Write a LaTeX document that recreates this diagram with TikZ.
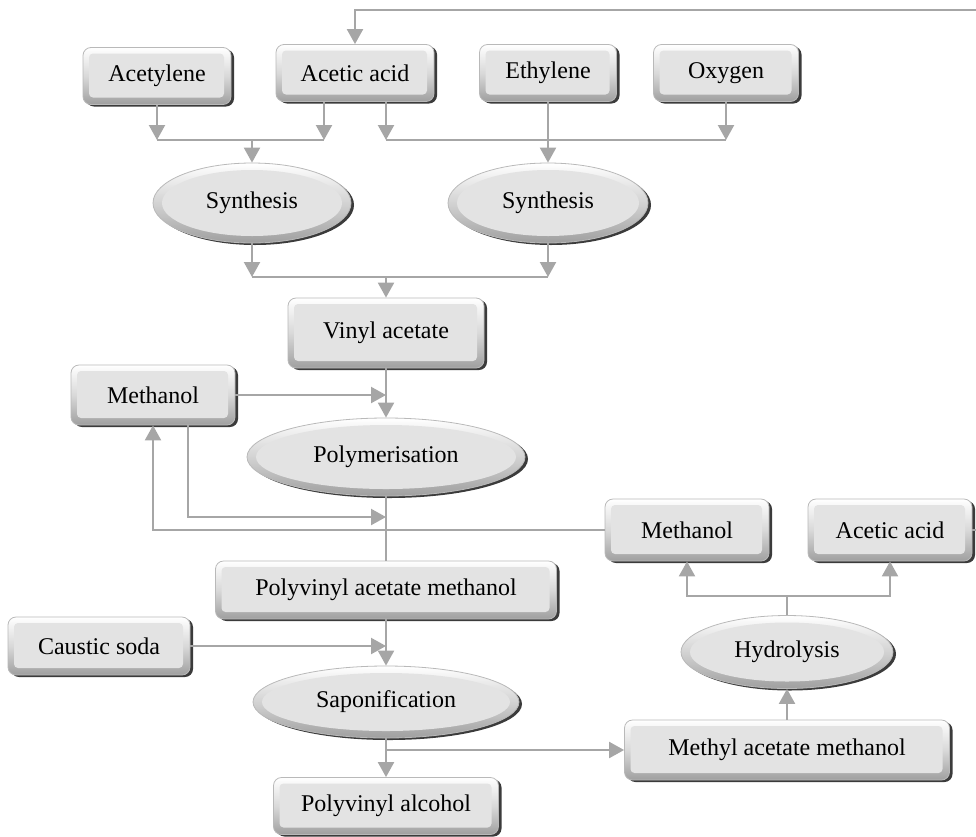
\documentclass[tikz,border=0pt]{standalone}
\usepackage{fontspec}
\setmainfont{Liberation Serif}
\usetikzlibrary{shapes.geometric,shadows,arrows.meta,calc}
\definecolor{ln}{HTML}{A6A6A6}
\tikzset{
  bx/.style={rectangle, rounded corners=8pt, inner sep=0pt, draw=gray!55, line width=0.8pt,
    top color=white, bottom color=gray!75, middle color=gray!30,
    drop shadow={opacity=0.9, fill=black!85, shadow xshift=3pt, shadow yshift=-2pt},
    font=\fontsize{24}{28}\selectfont,
    path picture={\fill[gray!22, rounded corners=4pt] ([xshift=6pt,yshift=-6pt]path picture bounding box.north west) rectangle ([xshift=-7pt,yshift=7pt]path picture bounding box.south east);}},
  el/.style={ellipse, inner sep=0pt, draw=gray!55, line width=0.8pt,
    top color=white, bottom color=gray!75, middle color=gray!35,
    drop shadow={opacity=0.9, fill=black!85, shadow xshift=3pt, shadow yshift=-2pt},
    font=\fontsize{24}{28}\selectfont,
    path picture={\fill[gray!22] let \p1=(path picture bounding box.south west), \p2=(path picture bounding box.north east) in ($(\p1)!0.5!(\p2)$) ellipse ({(\x2-\x1)/2-9pt} and {(\y2-\y1)/2-7pt});}},
  ln/.style={draw=ln, line width=2.2pt},
  arr/.style={ln, -{Triangle[length=15pt,width=16pt]}},
}
\begin{document}
\begin{tikzpicture}[x=1pt,y=-1pt]
\useasboundingbox (0,0) rectangle (976,836);
\clip (0,0) rectangle (976,836);
% nodes
\node[bx, minimum width=148pt, minimum height=57pt] (acet) at (157,76) {Acetylene};
\node[bx, minimum width=158pt, minimum height=57pt] (aa1) at (355,73) {Acetic acid};
\node[bx, minimum width=137pt, minimum height=57pt] (eth) at (548,73) {Ethylene};
\node[bx, minimum width=145pt, minimum height=57pt] (oxy) at (726,73) {Oxygen};
\node[el, minimum width=198pt, minimum height=80pt] (syn1) at (252,203) {Synthesis};
\node[el, minimum width=200pt, minimum height=80pt] (syn2) at (548,203) {Synthesis};
\node[bx, minimum width=196pt, minimum height=70pt] (vin) at (386,333) {Vinyl acetate};
\node[bx, minimum width=164pt, minimum height=60pt] (meth1) at (153,395) {Methanol};
\node[el, minimum width=278pt, minimum height=78pt] (poly) at (386,457) {Polymerisation};
\node[bx, minimum width=164pt, minimum height=62pt] (meth2) at (687,530) {Methanol};
\node[bx, minimum width=164pt, minimum height=62pt] (aa2) at (890,530) {Acetic acid};
\node[bx, minimum width=341pt, minimum height=58pt] (pvam) at (386,590) {Polyvinyl acetate methanol};
\node[bx, minimum width=182pt, minimum height=58pt] (caus) at (99,646) {Caustic soda};
\node[el, minimum width=266pt, minimum height=72pt] (sap) at (386,702) {Saponification};
\node[bx, minimum width=225pt, minimum height=57pt] (pva) at (386,806) {Polyvinyl alcohol};
\node[bx, minimum width=325pt, minimum height=60pt] (mam) at (787,750) {Methyl acetate methanol};
\node[el, minimum width=212pt, minimum height=73pt] (hyd) at (787,652) {Hydrolysis};
% coordinates
\coordinate (h1L) at (157,140);
\coordinate (h1R) at (324,140);
\coordinate (h1M) at (252,140);
\coordinate (h2L) at (386,140);
\coordinate (h2R) at (726,140);
\coordinate (h3L) at (252,277);
\coordinate (h3R) at (548,277);
\coordinate (h3M) at (386,277);
\coordinate (m1in) at (386,395);
\coordinate (lp1) at (188,517);
\coordinate (lp1e) at (386,517);
\coordinate (csin) at (386,646);
\coordinate (br) at (386,750);
\coordinate (hb) at (787,596);
\coordinate (topR) at (990,10);
% connectors top
\draw[arr] (acet.south) -- (h1L);
\draw[arr] (aa1.south -| h1R) -- (h1R);
\draw[ln] (h1L) -- (h1R);
\draw[arr] (h1M) -- (syn1.north);
\draw[arr] (aa1.south -| h2L) -- (h2L);
\draw[ln] (h2L) -- (h2R);
\draw[arr] (oxy.south) -- (h2R);
\draw[arr] (eth.south) -- (syn2.north);
\draw[arr] (aa2.east) -| (topR) -| (aa1.north);
% synthesis to vinyl acetate
\draw[arr] (syn1.south) -- (h3L);
\draw[arr] (syn2.south) -- (h3R);
\draw[ln] (h3L) -- (h3R);
\draw[arr] (h3M) -- (vin.north);
% polymerisation
\draw[arr] (vin.south) -- (poly.north);
\draw[arr] (meth1.east) -- (m1in);
\draw[ln] (poly.south) -- (pvam.north);
\draw[arr] (meth1.south -| lp1) -- (lp1) -- (lp1e);
\draw[arr] (meth2.west) -| (meth1.south);
% saponification
\draw[arr] (pvam.south) -- (sap.north);
\draw[arr] (caus.east) -- (csin);
\draw[arr] (sap.south) -- (pva.north);
\draw[arr] (br) -- (mam.west);
% hydrolysis
\draw[arr] (mam.north) -- (hyd.south);
\draw[ln] (hyd.north) -- (hb);
\draw[arr] (hb) -| (meth2.south);
\draw[arr] (hb) -| (aa2.south);
\end{tikzpicture}
\end{document}
